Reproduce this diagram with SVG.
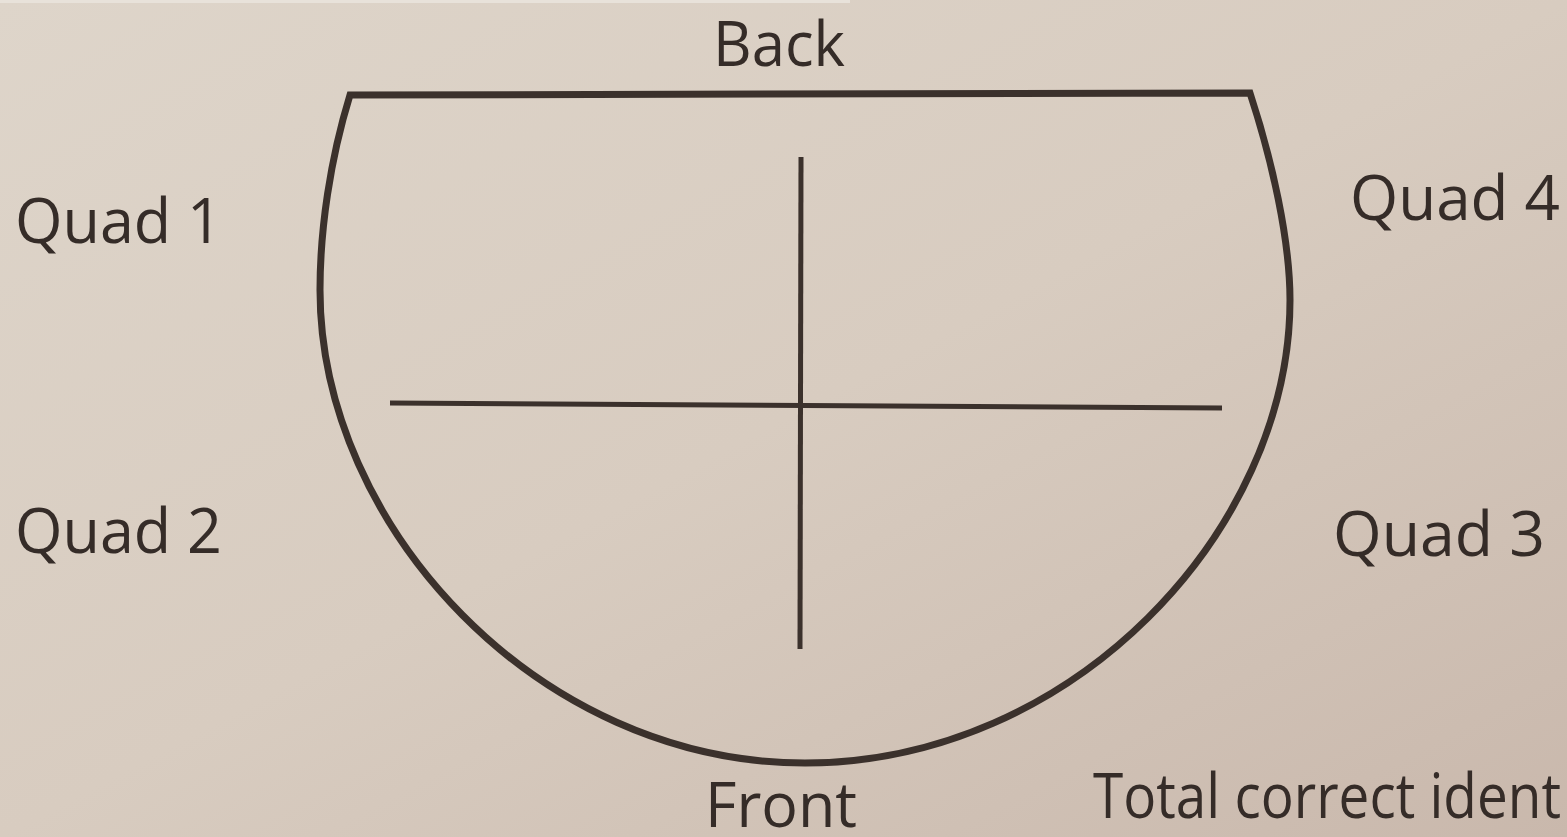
<svg xmlns="http://www.w3.org/2000/svg" width="1567" height="837" viewBox="0 0 1567 837">
<defs>
<linearGradient id="bg" x1="0" y1="0" x2="1" y2="1">
<stop offset="0" stop-color="#ded5ca"/>
<stop offset="0.5" stop-color="#d8ccc0"/>
<stop offset="1" stop-color="#c9b8ac"/>
</linearGradient>
<style>
.lbl{font-family:"Open Sans","Noto Sans",sans-serif;font-size:62px;fill:#352c28}
.ln{fill:none;stroke:#3b312c;stroke-linecap:butt}
</style>
</defs>
<rect width="1567" height="837" fill="url(#bg)"/>
<rect x="0" y="0" width="850" height="3" fill="#e8e2da"/>
<g id="stage">
<path class="ln" stroke-width="7" stroke-linejoin="miter" d="M 350 95 C 330 160 320 230 320 290 C 320 526 538 763 805 763 C 1072 763 1290 531 1290 300 C 1290 240 1272 160 1250 93 Z"/>
</g>
<g id="connectors">
<line class="ln" stroke-width="5" x1="801" y1="157" x2="800" y2="649"/>
<line class="ln" stroke-width="5" x1="390" y1="403" x2="1222" y2="408"/>
</g>
<g id="label-back"><text class="lbl" x="779" y="66" text-anchor="middle" textLength="132" lengthAdjust="spacingAndGlyphs">Back</text></g>
<g id="label-front"><text class="lbl" x="781" y="827" text-anchor="middle" textLength="152" lengthAdjust="spacingAndGlyphs">Front</text></g>
<g id="label-quad1"><text class="lbl" x="15" y="243" textLength="207" lengthAdjust="spacingAndGlyphs">Quad 1</text></g>
<g id="label-quad2"><text class="lbl" x="15" y="553" textLength="207" lengthAdjust="spacingAndGlyphs">Quad 2</text></g>
<g id="label-quad3"><text class="lbl" x="1333" y="556" textLength="212" lengthAdjust="spacingAndGlyphs">Quad 3</text></g>
<g id="label-quad4"><text class="lbl" x="1350" y="220" textLength="210" lengthAdjust="spacingAndGlyphs">Quad 4</text></g>
<g id="label-total"><text class="lbl" x="1093" y="818" textLength="468" lengthAdjust="spacingAndGlyphs">Total correct ident</text></g>
</svg>
